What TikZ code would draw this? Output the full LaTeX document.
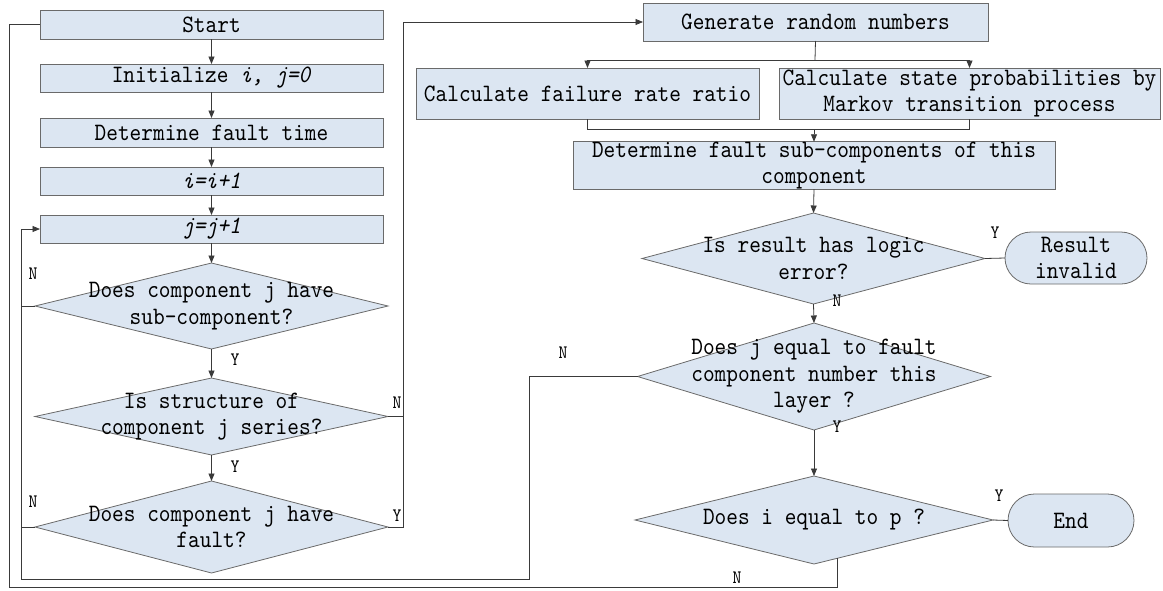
\documentclass[tikz,border=0pt]{standalone}
\usepackage{fontspec}
\newfontfamily\mf{lmmono10-regular.otf}[ItalicFont=lmmono10-italic.otf, FakeStretch=0.89]
\usetikzlibrary{arrows.meta,shapes.geometric,shapes.misc,calc}
\definecolor{boxfill}{HTML}{DCE6F2}
\definecolor{edgec}{HTML}{6A6A6A}
\definecolor{wire}{HTML}{3A3A3A}
\begin{document}
\begin{tikzpicture}[x=1pt,y=-1pt,
  txt/.style={font={\mf\fontsize{25}{26.5}\selectfont}, align=center, inner sep=0pt},
  box/.style={rectangle, draw=edgec, fill=boxfill, line width=0.8pt, inner sep=0pt, outer sep=0pt, txt},
  dia/.style={diamond, draw=edgec, fill=boxfill, line width=0.8pt, inner sep=0pt, outer sep=0pt},
  term/.style={rounded rectangle, draw=edgec, fill=boxfill, line width=0.8pt, inner sep=0pt, outer sep=0pt, txt},
  lab/.style={font={\mf\fontsize{19}{19}\selectfont}, inner sep=0pt},
  wirel/.style={draw=wire, line width=0.8pt},
  arr/.style={wirel, -{Triangle[length=7.5pt,width=6pt]}}
]
\useasboundingbox (0,0) rectangle (1163,590);

% left column
\node[box, minimum width=343pt, minimum height=29pt] (start) at (211.5,24.5) {Start};
\node[box, minimum width=343pt, minimum height=28pt] (init) at (211.5,78) {Initialize \textit{i, j=0}};
\node[box, minimum width=343pt, minimum height=29pt] (dft) at (211.5,132.5) {Determine fault time};
\node[box, minimum width=343pt, minimum height=28pt] (ii) at (211.5,181) {\textit{i=i+1}};
\node[box, minimum width=343pt, minimum height=28pt] (jj) at (211.5,229) {\textit{j=j+1}};

\node[dia, minimum width=353pt, minimum height=86pt] (d1) at (211.5,306) {};
\node[txt] (d1t) at (d1) {Does component j have\\sub-component?};
\node[dia, minimum width=353pt, minimum height=77pt] (d2) at (211.5,416.5) {};
\node[txt] (d2t) at (d2) {Is structure of\\component j series?};
\node[dia, minimum width=353pt, minimum height=92pt] (d3) at (211.5,527) {};
\node[txt] (d3t) at (d3) {Does component j have\\fault?};

% right column
\node[box, minimum width=345pt, minimum height=38pt] (gen) at (815.5,22) {Generate random numbers};
\node[box, minimum width=343pt, minimum height=51pt] (cfr) at (587.5,93.5) {Calculate failure rate ratio};
\node[box, minimum width=381pt, minimum height=51pt] (csp) at (969.5,93.5) {Calculate state probabilities by\\Markov transition process};
\node[box, minimum width=482pt, minimum height=45pt] (det) at (814,165.5) {Determine fault sub-components of this\\component};

\node[dia, minimum width=343pt, minimum height=91pt] (d4) at (813.5,258.5) {};
\node[txt] (d4t) at (d4) {Is result has logic\\error?};
\node[term, minimum width=142pt, minimum height=52pt] (rinv) at (1076,258) {Result\\invalid};

\node[dia, minimum width=353pt, minimum height=107pt] (d5) at (814,376.5) {};
\node[txt] (d5t) at (d5) {Does j equal to fault\\component number this\\layer ?};

\node[dia, minimum width=358pt, minimum height=88pt] (d6) at (814,520) {};
\node[txt] (d6t) at (d6) {Does i equal to p ?};
\node[term, minimum width=126pt, minimum height=53pt] (fin) at (1071,520.5) {End};

% helper coordinates
\coordinate (lb) at (21,579);
\coordinate (nb) at (529,579);
\coordinate (ob) at (9,587);
\coordinate (rtop) at (403,22);
\coordinate (sp) at (815,60);
\coordinate (mg) at (814,129);
\coordinate (d6n) at ($(d6.south)!0.1285!(d6.east)$);

% left flow
\draw[arr] (start) -- (init);
\draw[arr] (init) -- (dft);
\draw[arr] (dft) -- (ii);
\draw[arr] (ii) -- (jj);
\draw[arr] (jj) -- (d1);
\draw[arr] (d1.south) -- (d2.north);
\draw[arr] (d2.south) -- (d3.north);

% inner loop back to j=j+1
\draw[wirel] (d1.west) -- (d1.west -| lb);
\draw[wirel] (d3.west) -- (d3.west -| lb);
\draw[wirel] (d5.west) -| (nb) -- (lb);
\draw[arr] (lb) |- (jj.west);

% outer loop back to start
\draw[wirel] (d6n) |- (ob) |- (start.west);

% right branch to generate
\draw[wirel] (d2.east) -- (d2.east -| rtop);
\draw[arr] (d3.east) -| (rtop) -- (gen.west);

% right flow
\draw[wirel] (gen.south) -- (sp);
\draw[arr] (sp) -| (cfr.north);
\draw[arr] (sp) -| (csp.north);
\draw[wirel] (cfr.south) |- (mg);
\draw[wirel] (csp.south) |- (mg);
\draw[arr] (mg) -- (det.north);
\draw[arr] (det.south) -- (d4.north);
\draw[arr] (d4.south) -- (d5.north);
\draw[arr] (d5.south) -- (d6.north);
\draw[wirel] (d4.east) -- (rinv.west);
\draw[wirel] (d6.east) -- (fin.west);

% labels
\node[lab] (l1) at (33,274) {N};
\node[lab] (l2) at (235,360) {Y};
\node[lab] (l3) at (397,403) {N};
\node[lab] (l4) at (235,467) {Y};
\node[lab] (l5) at (33,502) {N};
\node[lab] (l6) at (397,516) {Y};
\node[lab] (l7) at (995,233) {Y};
\node[lab] (l8) at (837,301) {N};
\node[lab] (l9) at (563,353) {N};
\node[lab] (l10) at (837,427) {Y};
\node[lab] (l11) at (999,496) {Y};
\node[lab] (l12) at (737,578) {N};
\end{tikzpicture}
\end{document}
